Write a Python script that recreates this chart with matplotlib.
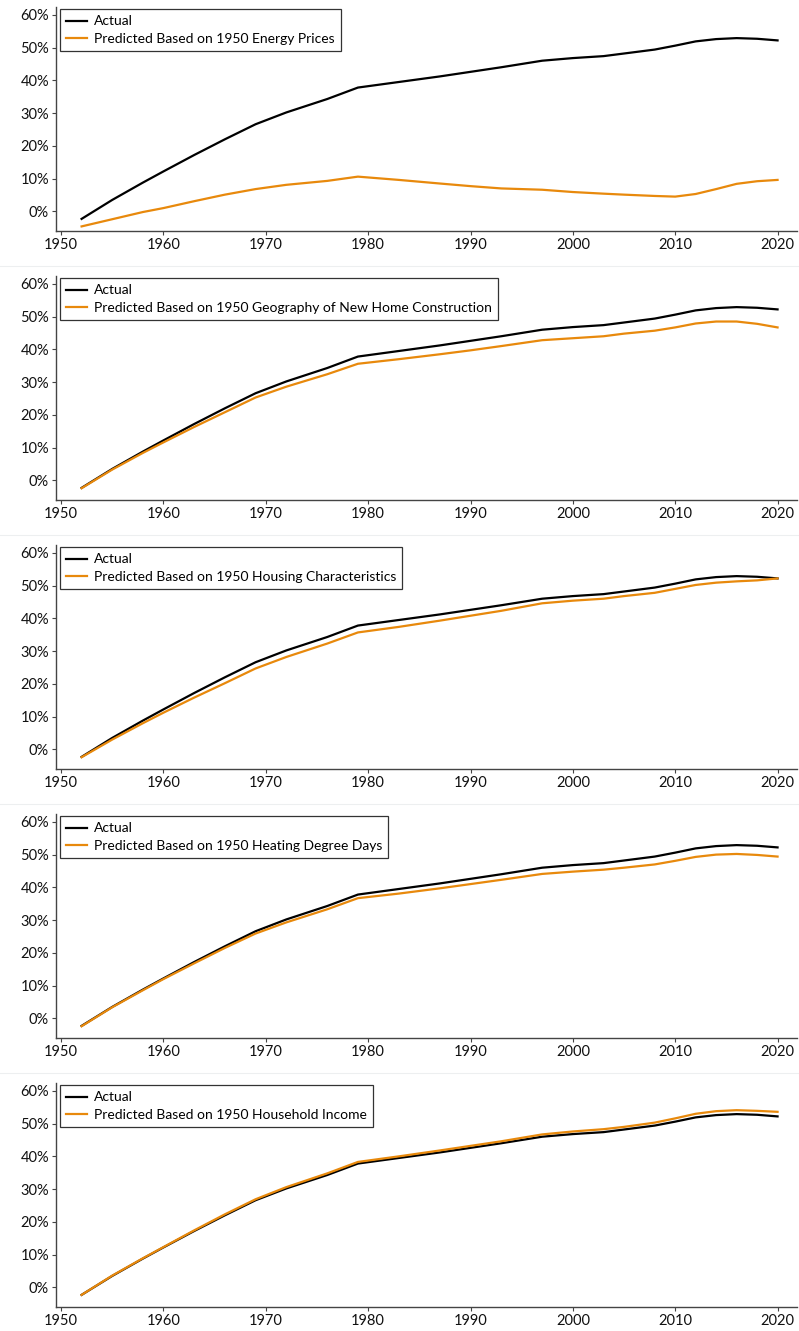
import matplotlib
matplotlib.use("Agg")
import matplotlib.pyplot as plt
from matplotlib.lines import Line2D
from matplotlib.ticker import FuncFormatter

plt.rcParams['font.family'] = ['Lato', 'DejaVu Sans']

# Share of homes heated with electricity, actual vs. counterfactual predictions
years = [1952, 1955, 1958, 1960, 1963, 1966, 1969, 1972, 1976, 1979, 1983, 1987,
         1990, 1993, 1997, 2000, 2003, 2005, 2008, 2010, 2012, 2014, 2016, 2018, 2020]

actual = [-2.3, 3.5, 8.8, 12.2, 17.2, 22.0, 26.6, 30.2, 34.3, 37.8, 39.5, 41.2,
          42.6, 44.0, 46.0, 46.8, 47.4, 48.2, 49.4, 50.6, 51.9, 52.6, 52.9, 52.7, 52.2]

pred_energy = [-4.6, -2.4, -0.2, 1.0, 3.1, 5.1, 6.8, 8.1, 9.3, 10.6, 9.6, 8.5,
               7.7, 7.0, 6.6, 5.9, 5.4, 5.1, 4.7, 4.5, 5.3, 6.8, 8.4, 9.2, 9.6]

pred_geography = [-2.4, 3.3, 8.4, 11.6, 16.3, 20.8, 25.3, 28.6, 32.4, 35.6, 37.0, 38.5,
                  39.7, 41.0, 42.8, 43.4, 44.0, 44.8, 45.7, 46.7, 47.9, 48.5, 48.5, 47.8, 46.7]

pred_housing = [-2.4, 3.0, 8.0, 11.2, 15.8, 20.2, 24.7, 28.2, 32.3, 35.7, 37.4, 39.3,
                40.8, 42.3, 44.6, 45.4, 46.0, 46.8, 47.8, 49.0, 50.2, 50.9, 51.3, 51.6, 52.2]

pred_hdd = [-2.4, 3.4, 8.6, 12.0, 16.8, 21.5, 25.9, 29.3, 33.3, 36.7, 38.1, 39.7,
            41.0, 42.3, 44.1, 44.8, 45.4, 46.0, 47.0, 48.1, 49.3, 50.0, 50.2, 49.9, 49.4]

pred_income = [-2.3, 3.6, 8.9, 12.3, 17.4, 22.3, 26.9, 30.6, 34.8, 38.3, 40.0, 41.8,
               43.2, 44.6, 46.7, 47.6, 48.3, 49.0, 50.3, 51.6, 53.0, 53.8, 54.1, 53.9, 53.6]

labels = [
    "Predicted Based on 1950 Energy Prices",
    "Predicted Based on 1950 Geography of New Home Construction",
    "Predicted Based on 1950 Housing Characteristics",
    "Predicted Based on 1950 Heating Degree Days",
    "Predicted Based on 1950 Household Income",
]
predictions = [pred_energy, pred_geography, pred_housing, pred_hdd, pred_income]

xticks = [1950, 1960, 1970, 1980, 1990, 2000, 2010, 2020]
yticks = [0, 10, 20, 30, 40, 50, 60]

W, H = 799, 1331
fig = plt.figure(figsize=(W / 100, H / 100), dpi=100)
fig.patch.set_facecolor('white')

ORANGE = '#E8890C'
AXIS_GREY = '#444444'

panel_tops = [7, 276, 545, 814, 1083]
panel_h = 224
left_px, right_px = 56, 797

for i, (top, pred, lab) in enumerate(zip(panel_tops, predictions, labels)):
    ax = fig.add_axes([left_px / W, 1 - (top + panel_h) / H,
                       (right_px - left_px) / W, panel_h / H])
    ax.plot(years, actual, color='black', lw=1.6, label='Actual', zorder=2)
    ax.plot(years, pred, color=ORANGE, lw=1.6, label=lab, zorder=3)

    ax.set_xlim(1949.5, 2021.9)
    ax.set_ylim(-6.0, 62.4)
    ax.set_xticks(xticks)
    ax.set_yticks(yticks)
    ax.yaxis.set_major_formatter(FuncFormatter(lambda v, p: f"{v:.0f}%"))

    for side in ['top', 'right']:
        ax.spines[side].set_visible(False)
    for side in ['left', 'bottom']:
        ax.spines[side].set_color(AXIS_GREY)
        ax.spines[side].set_linewidth(1.0)
    ax.tick_params(colors=AXIS_GREY, labelcolor='#111111', labelsize=10.5,
                   length=3, width=0.8, pad=2)

    leg = ax.legend(loc='upper left', bbox_to_anchor=(0.005, 0.99), fontsize=10,
                    frameon=True, fancybox=False, handlelength=1.5,
                    handletextpad=0.5, borderpad=0.45, labelspacing=0.4,
                    borderaxespad=0.0)
    leg.get_frame().set_edgecolor('black')
    leg.get_frame().set_linewidth(0.9)

    # faint divider beneath each panel
    if i < 4:
        y_sep = 1 - (top + 259) / H
        fig.add_artist(Line2D([0, 1], [y_sep, y_sep], transform=fig.transFigure,
                              color='#EDEFF0', lw=0.8))

fig.savefig('out.png', dpi=100)
